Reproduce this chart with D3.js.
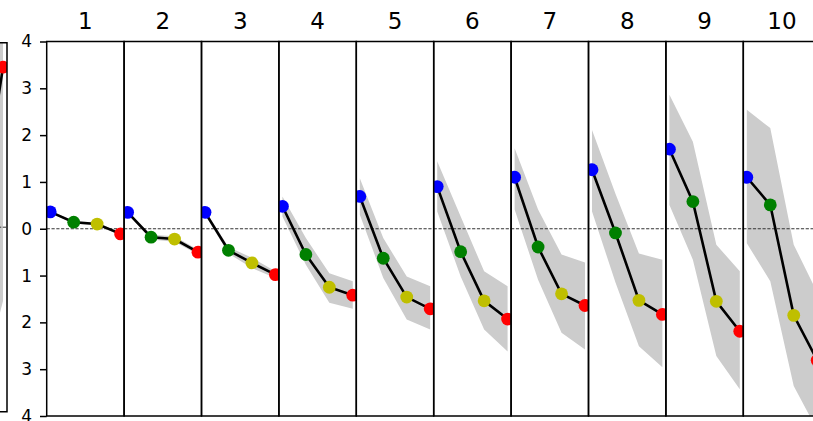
<!DOCTYPE html>
<html>
<head>
<meta charset="utf-8">
<script src="https://cdn.jsdelivr.net/npm/d3@7"></script>
<style>
  html, body { margin: 0; padding: 0; background: #fff; }
  svg { display: block; }
  text { font-family: "DejaVu Sans", sans-serif; fill: #000; }
</style>
</head>
<body>
<svg id="chart" width="813" height="421"></svg>
<script>
// ---------------- data ----------------
const panelLabels = ["1", "2", "3", "4", "5", "6", "7", "8", "9", "10"];
const stages = [0, 1, 2, 3];
const yTickValues = [-4, -3, -2, -1, 0, 1, 2, 3, 4];
const yTickLabels = ["4", "3", "2", "1", "0", "1", "2", "3", "4"];

// mean values per panel (four stages each)
const meanValues = [
  [0.36, 0.14, 0.10, -0.11],
  [0.35, -0.18, -0.22, -0.50],
  [0.35, -0.46, -0.73, -0.98],
  [0.48, -0.55, -1.25, -1.42],
  [0.69, -0.63, -1.46, -1.71],
  [0.90, -0.49, -1.54, -1.93],
  [1.10, -0.39, -1.39, -1.64],
  [1.26, -0.09, -1.53, -1.83],
  [1.70, 0.58, -1.55, -2.19],
  [1.10, 0.51, -1.85, -2.81]
];
const upperValues = [
  [0.38, 0.17, 0.13, -0.08],
  [0.38, -0.13, -0.16, -0.45],
  [0.40, -0.39, -0.62, -0.91],
  [0.69, -0.20, -0.95, -1.12],
  [1.08, -0.20, -1.02, -1.23],
  [1.44, 0.26, -0.91, -1.23],
  [1.72, 0.41, -0.55, -0.72],
  [2.11, 0.75, -0.53, -0.66],
  [2.86, 1.86, -0.34, -0.91],
  [2.54, 2.15, -0.34, -1.36]
];
const lowerValues = [
  [0.34, 0.11, 0.07, -0.14],
  [0.32, -0.23, -0.28, -0.55],
  [0.30, -0.53, -0.84, -1.05],
  [0.26, -0.77, -1.58, -1.71],
  [0.30, -1.05, -1.94, -2.15],
  [0.37, -1.02, -2.15, -2.62],
  [0.41, -1.09, -2.22, -2.58],
  [0.37, -1.15, -2.51, -2.96],
  [0.51, -0.66, -2.72, -3.43],
  [-0.31, -1.12, -3.36, -4.30]
];

// partially visible panel at the far left (only last two stages visible)
const leftStages = [2, 3];
const leftMean = [0.15, 3.47];
const leftUpper = [2.6, 4.6];
const leftLower = [-3.6, -1.6];

// ---------------- styling ----------------
const stageColors = ["#0000ff", "#008000", "#bfbf00", "#ff0000"];
const W = 813, H = 421;
const plotLeft = 46.7, panelW = 77.4;
const plotTop = 41.5, plotBottom = 416;

const svg = d3.select("#chart");
svg.append("rect").attr("width", W).attr("height", H).attr("fill", "#fff");
const defs = svg.append("defs");

const y = d3.scaleLinear().domain([-4, 4]).range([plotBottom, plotTop]);

function drawPanel(g, x, yS, st, mean, up, lo, clipId, clipX, clipW, clipTop, clipBot) {
  defs.append("clipPath").attr("id", clipId)
    .append("rect").attr("x", clipX).attr("y", clipTop)
    .attr("width", clipW).attr("height", clipBot - clipTop);
  const c = g.append("g").attr("clip-path", `url(#${clipId})`);
  const pts = st.map((s, k) => ({ s, m: mean[k], u: up[k], l: lo[k] }));
  c.append("path").datum(pts)
    .attr("d", d3.area().x(d => x(d.s)).y0(d => yS(d.l)).y1(d => yS(d.u)))
    .attr("fill", "#cccccc").attr("stroke", "none");
  c.append("line")
    .attr("x1", clipX).attr("x2", clipX + clipW)
    .attr("y1", yS(0)).attr("y2", yS(0))
    .attr("stroke", "#333").attr("stroke-width", 1)
    .attr("stroke-dasharray", "3.2,1.6");
  c.append("path").datum(pts)
    .attr("d", d3.line().x(d => x(d.s)).y(d => yS(d.m)))
    .attr("fill", "none").attr("stroke", "#000").attr("stroke-width", 2.6);
  c.selectAll("circle").data(pts).enter().append("circle")
    .attr("cx", d => x(d.s)).attr("cy", d => yS(d.m)).attr("r", 6.4)
    .attr("fill", d => stageColors[d.s]);
}

// left partial panel
{
  const lTop = 42.7, lBot = 411.7, lRight = 7;
  const yL = d3.scaleLinear().domain([-4, 4]).range([lBot, lTop]);
  const unit = panelW / 3.3;
  const xL = d3.scaleLinear().domain([3, 4]).range([3, 3 + unit]);
  const g = svg.append("g");
  drawPanel(g, xL, yL, leftStages, leftMean, leftUpper, leftLower, "clipL", -2, lRight + 2, lTop, lBot);
  g.append("path")
    .attr("d", `M-2,${lTop}H${lRight}V${lBot}H-2`)
    .attr("fill", "none").attr("stroke", "#000").attr("stroke-width", 1.5);
}

// main panels
panelLabels.forEach((lab, i) => {
  const left = plotLeft + i * panelW;
  const x = d3.scaleLinear().domain([-0.15, 3.15]).range([left, left + panelW]);
  const g = svg.append("g");
  drawPanel(g, x, y, stages, meanValues[i], upperValues[i], lowerValues[i],
    "clip" + i, left, panelW, plotTop, plotBottom);
  g.append("rect")
    .attr("x", left).attr("y", plotTop)
    .attr("width", panelW).attr("height", plotBottom - plotTop)
    .attr("fill", "none").attr("stroke", "#000").attr("stroke-width", 1.5);
  g.append("text")
    .attr("x", left + panelW / 2).attr("y", 29.3)
    .attr("text-anchor", "middle").attr("font-size", 23)
    .text(lab);
});

// y axis on the first panel
const yAxis = d3.axisLeft(y).tickValues(yTickValues)
  .tickFormat((d, k) => yTickLabels[k]).tickSize(6.7).tickPadding(8);
const ax = svg.append("g").attr("transform", `translate(${plotLeft},0)`).call(yAxis);
ax.select(".domain").remove();
ax.selectAll(".tick line").attr("stroke", "#000").attr("stroke-width", 1.5);
ax.selectAll(".tick text").attr("font-size", 17)
  .attr("font-family", "DejaVu Sans, sans-serif").attr("fill", "#000");
</script>
</body>
</html>
